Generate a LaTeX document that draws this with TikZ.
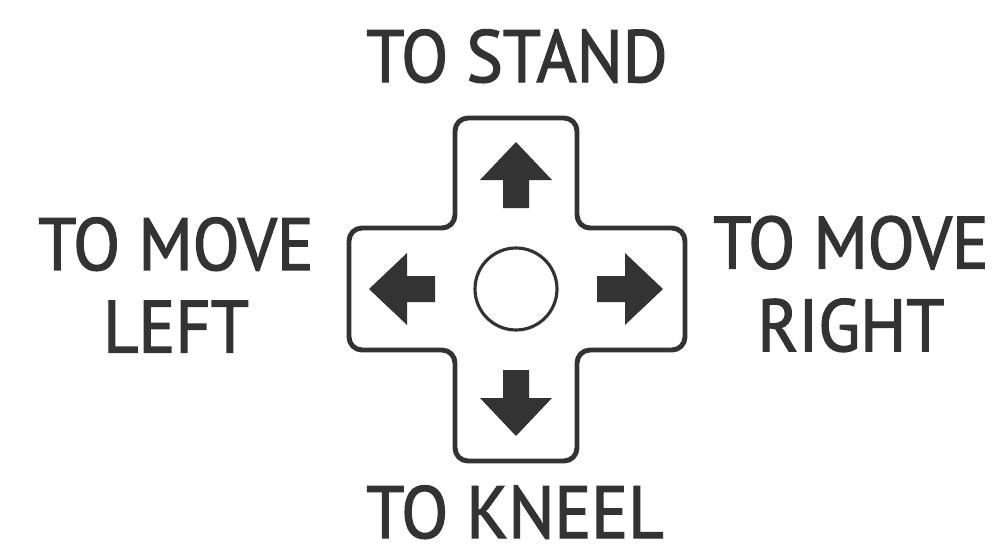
\documentclass[tikz,border=0pt]{standalone}
\usepackage{fontspec}
\setmainfont[FakeStretch=0.93,FakeBold=1.8]{PT Sans}
\usetikzlibrary{calc}
\definecolor{ink}{HTML}{333333}
\begin{document}
\begin{tikzpicture}[x=0.02cm,y=-0.02cm,
  lbl/.style={text=ink,font={\fontsize{42}{47}\selectfont},align=center,inner sep=0pt},
  padline/.style={draw=ink,line width=2.8pt,rounded corners=0.26cm,line join=round},
  arr/.style={fill=ink,draw=none}]
\useasboundingbox (0,0) rectangle (992,545);
\fill[white] (0,0) rectangle (992,545);
\coordinate (c) at (516,289);
% cross outline
\draw[padline] ($(c)+(-61,-171)$) -- ($(c)+(61,-171)$) -- ($(c)+(61,-61)$) -- ($(c)+(169,-61)$)
  -- ($(c)+(169,61)$) -- ($(c)+(61,61)$) -- ($(c)+(61,172)$) -- ($(c)+(-61,172)$)
  -- ($(c)+(-61,61)$) -- ($(c)+(-167,61)$) -- ($(c)+(-167,-61)$) -- ($(c)+(-61,-61)$) -- cycle;
% centre circle
\node[circle,draw=ink,line width=1.8pt,minimum size=1.64cm,inner sep=0pt] (btn) at (c) {};
% arrows
\foreach \a in {0,90,180,270}{
  \fill[arr,rotate around={\a:(c)}] ($(c)+(0,-147)$) -- ($(c)+(36,-109)$) -- ($(c)+(13,-109)$)
    -- ($(c)+(13,-81)$) -- ($(c)+(-13,-81)$) -- ($(c)+(-13,-109)$) -- ($(c)+(-36,-109)$) -- cycle;
}
% labels
\node[lbl,anchor=base] (up) at (517,82) {TO STAND};
\node[lbl,anchor=base] (down) at (515,538) {TO KNEEL};
\node[lbl] (left) at (176,285) {TO MOVE\\LEFT};
\node[lbl] (right) at (851,284) {TO MOVE\\RIGHT};
\end{tikzpicture}
\end{document}
